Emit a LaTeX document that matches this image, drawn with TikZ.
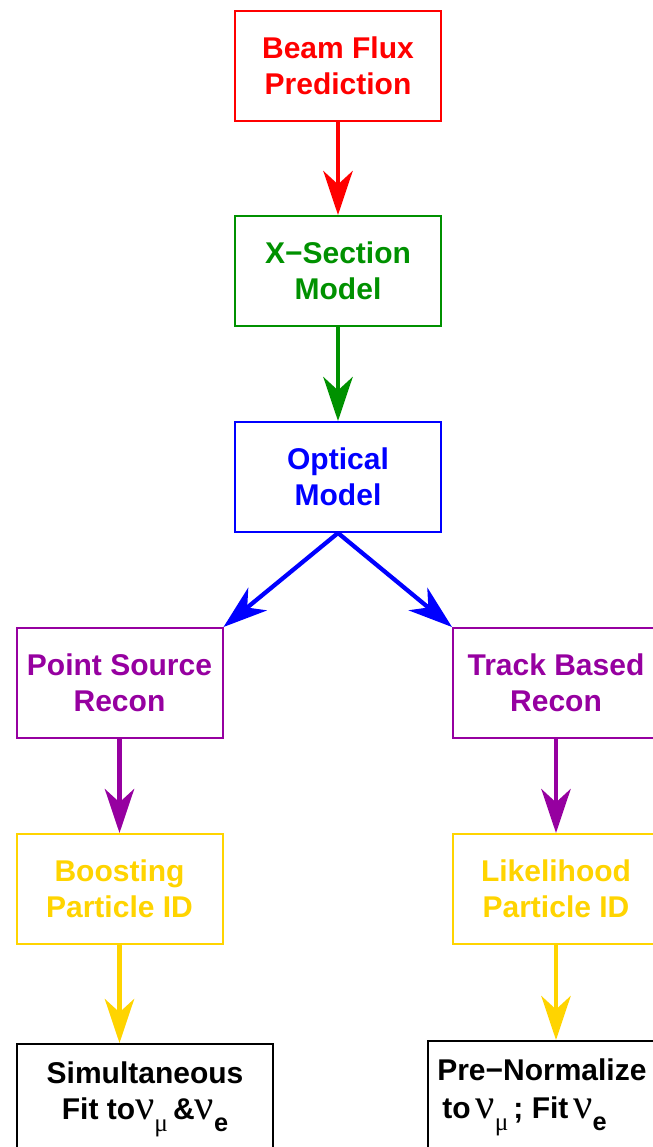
\documentclass[tikz,border=0pt]{standalone}
\usepackage{fontspec}
\setmainfont{Liberation Sans}
\newfontfamily\grk{Liberation Serif}
\usetikzlibrary{arrows.meta}
\definecolor{cred}{RGB}{255,0,0}
\definecolor{cgreen}{RGB}{0,145,0}
\definecolor{cblue}{RGB}{0,0,255}
\definecolor{cpurple}{RGB}{150,0,160}
\definecolor{cyellow}{RGB}{255,212,0}
\newcommand{\nuu}[1]{{\grk\mdseries\fontsize{32}{32}\selectfont ν}\raisebox{-0.4em}{\fontsize{19}{19}\selectfont\ifx#1m{\grk\mdseries μ}\else e\fi}}
\tikzset{
  box/.style={draw, line width=1.5pt, minimum width=154.5pt, minimum height=82.5pt,
    inner sep=0pt, align=center, font=\bfseries\fontsize{22.5}{27}\selectfont},
  txt/.style={inner sep=0pt, align=left, font=\bfseries\fontsize{22.5}{27}\selectfont},
  flow/.style={line width=3.2pt, -{Stealth[length=33pt,width=22pt,inset=10pt]}}
}
\begin{document}
\begin{tikzpicture}[x=0.75pt,y=-0.75pt]
\clip (0,0) rectangle (653,1147);
\fill[white] (0,0) rectangle (653,1147);
\node[box, draw=cred, text=cred] (flux) at (338,66) {Beam Flux\\Prediction};
\node[box, draw=cgreen, text=cgreen] (xsec) at (338,271) {X{\char"2212}Section\\Model};
\node[box, draw=cblue, text=cblue] (opt) at (338,477) {Optical\\Model};
\node[box, draw=cpurple, text=cpurple] (psr) at (119.5,683) {Point Source\\Recon};
\node[box, draw=cpurple, text=cpurple] (tbr) at (556,683) {Track Based\\Recon};
\node[box, draw=cyellow, text=cyellow] (bpid) at (119.5,889) {Boosting\\Particle ID};
\node[box, draw=cyellow, text=cyellow] (lpid) at (556,889) {Likelihood\\Particle ID};
\node[box, draw=black, text=black, minimum width=192pt] (sim) at (145,1099) {Simultaneous\\Fit to\nuu{m}\,\&\nuu{e}};
\node[box, draw=black, text=black, minimum width=192pt, anchor=north west] (pre) at (427,1040) {};
\node[txt, anchor=north west] (pret) at (437,1058) {Pre{\char"2212}Normalize\\[2pt] \,to\,\nuu{m}\,; Fit\,\nuu{e}};
\draw[flow, draw=cred, fill=cred] (flux.south) -- (xsec.north);
\draw[flow, draw=cgreen, fill=cgreen] (xsec.south) -- (opt.north);
\draw[flow, draw=cblue, fill=cblue] (opt.south) -- (psr.north east);
\draw[flow, draw=cblue, fill=cblue] (opt.south) -- (tbr.north west);
\draw[flow, draw=cpurple, fill=cpurple] (psr.south) -- (bpid.north);
\draw[flow, draw=cpurple, fill=cpurple] (tbr.south) -- (lpid.north);
\draw[flow, draw=cyellow, fill=cyellow] (bpid.south) -- (sim.north -| bpid.south);
\draw[flow, draw=cyellow, fill=cyellow] (lpid.south) -- (pre.north -| lpid.south);
\end{tikzpicture}
\end{document}
